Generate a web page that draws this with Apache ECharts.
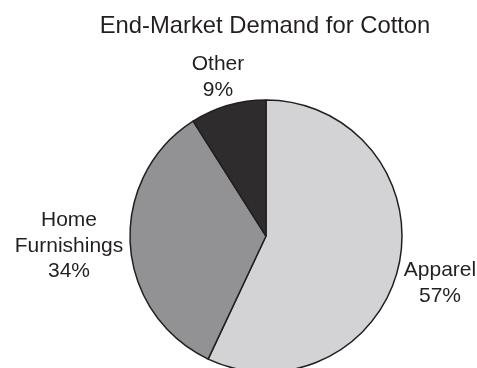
<!DOCTYPE html>
<html>
<head>
<meta charset="utf-8">
<script src="https://cdn.jsdelivr.net/npm/echarts@6/dist/echarts.min.js"></script>
<style>
html,body{margin:0;padding:0;background:#fff;}
#chart{width:477px;height:368px;}
</style>
</head>
<body>
<div id="chart"></div>
<script>
const title = 'End-Market Demand for Cotton';
const categories = ['Apparel', 'Home\nFurnishings', 'Other'];
const values = [57, 34, 9];
const colors = ['#d3d3d5', '#929295', '#2e2c2d'];
const labelPos = [[440, 283], [69, 246], [218, 77]];

const chart = echarts.init(document.getElementById('chart'), null, {renderer: 'canvas'});
chart.setOption({
  animation: false,
  backgroundColor: '#ffffff',
  title: {
    text: title,
    left: 260,
    top: 9,
    textAlign: 'center',
    textStyle: {fontFamily: 'Liberation Sans', fontSize: 23.8, fontWeight: 'normal', color: '#231f20'}
  },
  series: [{
    type: 'pie',
    center: [266, 236],
    radius: 136,
    startAngle: 90,
    clockwise: true,
    data: categories.map((c, i) => ({name: c, value: values[i], itemStyle: {color: colors[i]}})),
    itemStyle: {borderColor: '#231f20', borderWidth: 1.5},
    label: {
      show: true,
      position: 'outside',
      formatter: '{b}\n{c}%',
      fontFamily: 'Liberation Sans',
      fontSize: 21,
      lineHeight: 25.5,
      color: '#231f20',
      align: 'center',
      width: 200,
      overflow: 'none'
    },
    labelLine: {show: false},
    labelLayout: function (p) {
      const pos = labelPos[p.dataIndex];
      return {x: pos[0], y: pos[1], align: 'center', verticalAlign: 'middle'};
    }
  }]
});
</script>
</body>
</html>
